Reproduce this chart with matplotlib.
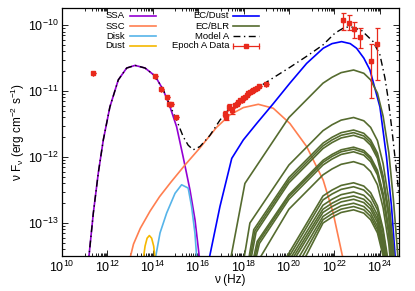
import numpy as np
import matplotlib
matplotlib.use("Agg")
from matplotlib import pyplot as plt
from matplotlib.ticker import FixedLocator, LogFormatterSciNotation, NullFormatter

plt.rcParams['font.family'] = ['Liberation Sans', 'DejaVu Sans']
plt.rcParams['mathtext.fontset'] = 'custom'
plt.rcParams['mathtext.rm'] = 'Liberation Sans'
plt.rcParams['mathtext.it'] = 'Liberation Sans'
plt.rcParams['mathtext.bf'] = 'Liberation Sans:bold'

# all values are log10(nu / Hz) and log10(nu F_nu / erg cm^-2 s^-1)
ssa_lognu = [11.16, 11.38, 11.60, 11.82, 12.11, 12.48, 12.85, 13.22, 13.66, 14.10,
             14.46, 14.76, 15.05, 15.34, 15.64, 15.86, 16.08]
ssa_logf = [-13.6, -12.85, -12.24, -11.74, -11.24, -10.83, -10.65, -10.61, -10.65, -10.77,
            -10.98, -11.24, -11.54, -12.0, -12.5, -12.95, -13.6]

ssc_lognu = [12.95, 13.15, 13.45, 13.88, 14.3, 14.8, 15.42, 16.08, 16.81, 17.40,
             17.99, 18.65, 19.31, 20.04, 20.78, 21.51, 21.95, 22.42]
ssc_logf = [-13.6, -13.32, -13.08, -12.82, -12.60, -12.38, -12.12, -11.86, -11.55, -11.36,
            -11.25, -11.20, -11.26, -11.49, -11.84, -12.35, -12.85, -13.6]

disk_lognu = [14.08, 14.32, 14.61, 14.98, 15.27, 15.56, 15.71, 15.86, 15.95]
disk_logf = [-13.6, -13.15, -12.85, -12.55, -12.42, -12.47, -12.75, -13.16, -13.6]

dust_lognu = [13.56, 13.66, 13.75, 13.85, 13.95, 14.04, 14.12]
dust_logf = [-13.6, -13.35, -13.23, -13.19, -13.23, -13.35, -13.6]

ecdust_lognu = [16.45, 16.96, 17.48, 17.99, 18.58, 19.31, 20.04, 20.78, 21.51, 21.9,
                22.32, 22.7, 22.98, 23.3, 23.57, 24.01, 24.30, 24.52, 24.70]
ecdust_logf = [-13.6, -12.75, -12.02, -11.74, -11.49, -11.19, -10.88, -10.58, -10.35, -10.28,
               -10.25, -10.28, -10.35, -10.5, -10.68, -11.24, -12.0, -12.75, -13.6]

# EC/BLR: one (log nu, log nuFnu) list per curve
ecblr_curves = [
    [(17.40, -13.6), (18.06, -12.40), (20.0, -11.40), (21.5, -10.88), (21.9, -10.79), (22.3, -10.72),
     (22.85, -10.68), (23.3, -10.73), (23.6, -10.83), (23.9, -11.03), (24.15, -11.38), (24.4, -11.93),
     (24.6, -12.63), (24.75, -13.28), (24.9, -13.98)],
    [(17.99, -13.6), (18.28, -13.0), (20.0, -12.12), (21.5, -11.60), (21.9, -11.51), (22.3, -11.44),
     (22.85, -11.40), (23.3, -11.45), (23.6, -11.55), (23.9, -11.75), (24.15, -12.10), (24.4, -12.65),
     (24.6, -13.35), (24.75, -14.0)],
    [(18.2, -13.6), (18.45, -13.10), (20.0, -12.31), (21.5, -11.79), (21.9, -11.70), (22.3, -11.63),
     (22.85, -11.59), (23.3, -11.64), (23.6, -11.74), (23.9, -11.94), (24.15, -12.29), (24.4, -12.84),
     (24.6, -13.54)],
    [(18.25, -13.6), (18.5, -13.12), (20.0, -12.35), (21.5, -11.83), (21.9, -11.74), (22.3, -11.67),
     (22.85, -11.63), (23.3, -11.68), (23.6, -11.78), (23.9, -11.98), (24.15, -12.33), (24.4, -12.88),
     (24.6, -13.58)],
    [(18.3, -13.6), (18.55, -13.14), (20.0, -12.39), (21.5, -11.87), (21.9, -11.78), (22.3, -11.71),
     (22.85, -11.67), (23.3, -11.72), (23.6, -11.82), (23.9, -12.02), (24.15, -12.37), (24.4, -12.92),
     (24.6, -13.62)],
    [(18.4, -13.6), (18.6, -13.28), (20.0, -12.57), (21.5, -12.05), (21.9, -11.96), (22.3, -11.89),
     (22.85, -11.85), (23.3, -11.90), (23.6, -12.00), (23.9, -12.20), (24.15, -12.55), (24.4, -13.10),
     (24.6, -13.80)],
    [(18.45, -13.6), (18.65, -13.29), (20.0, -12.60), (21.5, -12.08), (21.9, -11.99), (22.3, -11.92),
     (22.85, -11.88), (23.3, -11.93), (23.6, -12.03), (23.9, -12.23), (24.15, -12.58), (24.4, -13.13),
     (24.6, -13.83)],
    [(18.5, -13.6), (18.7, -13.31), (20.0, -12.64), (21.5, -12.12), (21.9, -12.03), (22.3, -11.96),
     (22.85, -11.92), (23.3, -11.97), (23.6, -12.07), (23.9, -12.27), (24.15, -12.62), (24.4, -13.17),
     (24.6, -13.87)],
    [(18.6, -13.6), (20.0, -12.79), (21.5, -12.27), (21.9, -12.18), (22.3, -12.11), (22.85, -12.07),
     (23.3, -12.12), (23.6, -12.22), (23.9, -12.42), (24.15, -12.77), (24.4, -13.32), (24.6, -14.02)],
    [(19.75, -13.6), (21.5, -12.59), (21.9, -12.50), (22.3, -12.43), (22.85, -12.39), (23.3, -12.44),
     (23.6, -12.54), (23.9, -12.74), (24.15, -13.09), (24.4, -13.64)],
    [(19.85, -13.6), (21.5, -12.65), (21.9, -12.56), (22.3, -12.49), (22.85, -12.45), (23.3, -12.50),
     (23.6, -12.60), (23.9, -12.80), (24.15, -13.15), (24.4, -13.70)],
    [(19.95, -13.6), (21.5, -12.73), (21.9, -12.64), (22.3, -12.57), (22.85, -12.53), (23.3, -12.58),
     (23.6, -12.68), (23.9, -12.88), (24.15, -13.23), (24.4, -13.78)],
    [(20.05, -13.6), (21.5, -12.79), (21.9, -12.70), (22.3, -12.63), (22.85, -12.59), (23.3, -12.64),
     (23.6, -12.74), (23.9, -12.94), (24.15, -13.29), (24.4, -13.84)],
    [(20.15, -13.6), (21.5, -12.84), (21.9, -12.75), (22.3, -12.68), (22.85, -12.64), (23.3, -12.69),
     (23.6, -12.79), (23.9, -12.99), (24.15, -13.34), (24.4, -13.89)],
    [(20.3, -13.6), (21.5, -12.90), (21.9, -12.81), (22.3, -12.74), (22.85, -12.70), (23.3, -12.75),
     (23.6, -12.85), (23.9, -13.05), (24.15, -13.40), (24.4, -13.95)],
    [(20.45, -13.6), (21.5, -12.95), (21.9, -12.86), (22.3, -12.79), (22.85, -12.75), (23.3, -12.80),
     (23.6, -12.90), (23.9, -13.10), (24.15, -13.45), (24.4, -14.0)],
    [(20.6, -13.6), (21.5, -13.00), (21.9, -12.91), (22.3, -12.84), (22.85, -12.80), (23.3, -12.85),
     (23.6, -12.95), (23.9, -13.15), (24.15, -13.50), (24.4, -14.05)],
]

model_lognu = [11.16, 11.38, 11.60, 11.82, 12.11, 12.48, 12.85, 13.22, 13.66, 14.10,
               14.46, 14.76, 15.05, 15.34, 15.56, 15.78, 16.08, 16.52, 16.96, 17.26,
               17.84, 18.58, 19.30, 20.04, 20.79, 21.50, 22.03, 22.47, 22.78, 23.20,
               23.71, 24.01, 24.23, 24.37, 24.54, 24.71, 24.85]
model_logf = [-13.6, -12.85, -12.24, -11.74, -11.24, -10.83, -10.65, -10.61, -10.65, -10.77,
              -10.98, -11.22, -11.44, -11.69, -11.82, -11.89, -11.84, -11.67, -11.44, -11.31,
              -11.14, -10.96, -10.80, -10.64, -10.47, -10.30, -10.12, -10.03, -10.03, -10.08,
              -10.25, -10.45, -10.80, -11.11, -11.59, -12.12, -12.58]

# Epoch A data
data_lognu = [11.35, 14.10, 14.36, 14.61, 14.71, 14.80, 15.01,
              17.18, 17.22, 17.37, 17.48, 17.62, 17.70, 17.77, 17.84, 17.92, 17.99,
              18.06, 18.14, 18.21, 18.28, 18.36, 18.43, 18.50, 18.58, 18.69, 18.99,
              22.39, 22.64, 22.88, 23.13, 23.61, 23.86]
data_logf = [-10.73, -10.77, -10.97, -11.09, -11.19, -11.20, -11.39,
             -11.35, -11.39, -11.24, -11.29, -11.21, -11.19, -11.16, -11.14, -11.13, -11.10,
             -11.09, -11.06, -11.03, -11.02, -11.00, -10.98, -10.97, -10.95, -10.93, -10.89,
             -9.92, -9.96, -10.06, -10.18, -10.54, -10.28]
data_err_dn = [0, 0, 0, 0, 0, 0, 0,
               0.05, 0.05, 0.05, 0.05, 0, 0, 0, 0, 0, 0,
               0, 0, 0, 0, 0, 0, 0, 0, 0, 0,
               0.15, 0.12, 0.13, 0.16, 0.57, 0.55]
data_err_up = [0, 0, 0, 0, 0, 0, 0,
               0.05, 0.05, 0.05, 0.05, 0, 0, 0, 0, 0, 0,
               0, 0, 0, 0, 0, 0, 0, 0, 0, 0,
               0.11, 0.11, 0.11, 0.13, 0.25, 0.23]
data_xerr = [0, 0, 0, 0, 0, 0, 0,
             0.04, 0.04, 0.04, 0.04, 0, 0, 0, 0, 0, 0,
             0, 0, 0, 0, 0, 0, 0, 0, 0, 0,
             0, 0, 0, 0, 0, 0]

c_ssa, c_ssc, c_disk, c_dust = '#9400d3', '#ff7f50', '#56b4e9', '#f5b800'
c_ecdust, c_ecblr, c_data = '#0000ff', '#556b2f', '#e8291c'
lw = 1.2


def lin(v):
    return 10.0 ** np.asarray(v, dtype=float)


fig = plt.figure(figsize=(4.15, 2.91), dpi=100)
ax = fig.add_axes([62 / 415, 35 / 291, 337 / 415, 248 / 291])
ax.set_xscale('log')
ax.set_yscale('log')

ax.plot(lin(ssa_lognu), lin(ssa_logf), color=c_ssa, lw=lw)
ax.plot(lin(ssc_lognu), lin(ssc_logf), color=c_ssc, lw=lw)
ax.plot(lin(disk_lognu), lin(disk_logf), color=c_disk, lw=lw)
ax.plot(lin(dust_lognu), lin(dust_logf), color=c_dust, lw=lw)
ax.plot(lin(ecdust_lognu), lin(ecdust_logf), color=c_ecdust, lw=lw)
for curve in ecblr_curves:
    cx, cy = zip(*curve)
    ax.plot(lin(cx), lin(cy), color=c_ecblr, lw=lw)
ax.plot(lin(model_lognu), lin(model_logf), color='black', lw=1.0, dashes=(5, 2.5, 1, 2.5))

nu = lin(data_lognu)
f = lin(data_logf)
yerr = [f - lin(np.array(data_logf) - np.array(data_err_dn)),
        lin(np.array(data_logf) + np.array(data_err_up)) - f]
xerr = [nu - lin(np.array(data_lognu) - np.array(data_xerr)),
        lin(np.array(data_lognu) + np.array(data_xerr)) - nu]
ax.errorbar(nu, f, yerr=yerr, xerr=xerr, fmt='s', ms=3, color=c_data, ecolor=c_data,
            elinewidth=0.9, capsize=1.8, capthick=0.9, zorder=5)

ax.set_xlim(1e10, 10 ** 24.85)
ax.set_ylim(10 ** -13.5, 10 ** -9.74)

ax.xaxis.set_major_locator(FixedLocator([10.0 ** k for k in range(10, 25, 2)]))
ax.xaxis.set_minor_locator(FixedLocator([m * 10.0 ** k for k in range(11, 25, 2) for m in range(1, 10)]))
ax.xaxis.set_major_formatter(LogFormatterSciNotation())
ax.xaxis.set_minor_formatter(NullFormatter())
ax.yaxis.set_major_locator(FixedLocator([10.0 ** k for k in range(-13, -9)]))
ax.yaxis.set_minor_locator(FixedLocator([m * 10.0 ** k for k in range(-14, -9) for m in range(2, 10)]))
ax.yaxis.set_major_formatter(LogFormatterSciNotation())
ax.yaxis.set_minor_formatter(NullFormatter())
ax.tick_params(which='both', direction='in', top=True, right=True, labelsize=9, width=0.6)
ax.tick_params(which='major', length=4, pad=2.5)
ax.tick_params(which='minor', length=2)
for s in ax.spines.values():
    s.set_linewidth(0.9)

fig.text(18 / 415, 1 - 132 / 291, r'ν F$_\nu$ (erg cm$^{-2}$ s$^{-1}$)', rotation=90,
         ha='center', va='center', fontsize=8.5)
fig.text(230 / 415, 1 - 280 / 291, 'ν (Hz)', ha='center', va='center', fontsize=8.5)

# key, drawn as two right-aligned columns
rows = [0.968, 0.927, 0.887, 0.847]
left_keys = [('SSA', c_ssa), ('SSC', c_ssc), ('Disk', c_disk), ('Dust', c_dust)]
for (name, col), yy in zip(left_keys, rows):
    ax.text(0.187, yy, name, transform=ax.transAxes, ha='right', va='center', fontsize=6.8)
    ax.plot([0.202, 0.279], [yy, yy], transform=ax.transAxes, color=col, lw=lw, clip_on=False)
right_keys = [('EC/Dust', c_ecdust), ('EC/BLR', c_ecblr)]
for (name, col), yy in zip(right_keys, rows[:2]):
    ax.text(0.496, yy, name, transform=ax.transAxes, ha='right', va='center', fontsize=6.8)
    ax.plot([0.507, 0.585], [yy, yy], transform=ax.transAxes, color=col, lw=lw, clip_on=False)
ax.text(0.496, rows[2], 'Model A', transform=ax.transAxes, ha='right', va='center', fontsize=6.8)
ax.plot([0.507, 0.585], [rows[2], rows[2]], transform=ax.transAxes, color='black', lw=1.0,
        dashes=(5, 2.5, 1, 2.5), clip_on=False)
ax.text(0.496, rows[3], 'Epoch A Data', transform=ax.transAxes, ha='right', va='center', fontsize=6.8)
ax.plot([0.507, 0.585], [rows[3], rows[3]], transform=ax.transAxes, color=c_data, lw=0.9, clip_on=False)
ax.plot([0.507, 0.585], [rows[3], rows[3]], transform=ax.transAxes, color=c_data, ls='none',
        marker='|', ms=4, mew=0.9, clip_on=False)
ax.plot([0.546], [rows[3]], transform=ax.transAxes, color=c_data, marker='s', ms=3, ls='none', clip_on=False)

fig.savefig('out.png', dpi=100)
